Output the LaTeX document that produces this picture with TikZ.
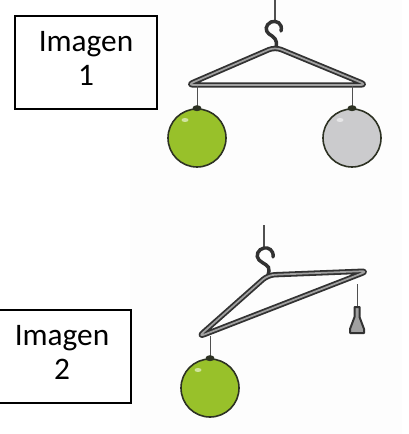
\documentclass[tikz,border=0pt]{standalone}
\usepackage{fontspec}
\setmainfont{Carlito}
\usetikzlibrary{calc}

\definecolor{wiredark}{RGB}{50,50,50}
\definecolor{wirelight}{RGB}{160,160,160}
\definecolor{threadgray}{RGB}{80,80,80}
\definecolor{ballgreen}{RGB}{152,193,42}
\definecolor{ballgrey}{RGB}{203,203,205}
\definecolor{balledge}{RGB}{45,50,35}
\definecolor{photobg}{RGB}{253,253,253}

\begin{document}
\begin{tikzpicture}[x=0.75pt,y=0.75pt,yscale=-1,xscale=1,
  wire/.style={draw=wiredark, line width=1.35pt, double=wirelight, double distance=1.3pt, line join=round, line cap=round},
  hookline/.style={draw=wiredark, line width=2.6pt, line cap=round},
  thread/.style={draw=threadgray, line width=0.7pt},
  ball/.style={circle, draw=balledge, line width=1.2pt, minimum size=43.5pt, inner sep=0pt},
  labelbox/.style={draw, line width=0.9pt, minimum width=106.5pt, minimum height=69.75pt, align=center, text depth=6pt, font=\fontsize{23.5}{26}\selectfont}]
\useasboundingbox (0,0) rectangle (409,434);

%Shape: Rectangle [photo background]
\fill [photobg] (130,0) rectangle (402,434) ;

%Label boxes
\node [labelbox] (img1) at (86,62.5) {Imagen\\1};
\node [labelbox, minimum width=103.5pt] (img2) at (62,356.5) {Imagen\\2};

%----- hanger 1 (balanced)
%Straight Lines [hanging string]
\coordinate (top1) at (275,0);
\coordinate (loop1) at (275,21);
\draw [thread, line width=1pt] (top1) -- (loop1) ;
%Curve Lines [hook]
\draw [hookline] (281,31) .. controls (283,23) and (276,20) .. (271,22) .. controls (265,25) and (265,31) .. (269,34) .. controls (274,37) and (278,40) .. (276,47) ;
%Shape: hanger body
\draw [wire, rounded corners=5] (275,47) -- (187,85) -- (367,85) -- cycle ;
%Balls
\coordinate (hookL1) at (197,86);
\coordinate (hookR1) at (352,86);
\node [ball, fill=ballgreen] (ballL1) at (197,138) {};
\node [ball, fill=ballgrey] (ballR1) at (352,138) {};
\draw [thread] (hookL1) -- (ballL1.north) ;
\draw [thread] (hookR1) -- (ballR1.north) ;

%----- hanger 2 (tilted)
%Straight Lines [hanging string]
\coordinate (top2) at (264,225);
\coordinate (loop2) at (264,248);
\draw [thread, line width=1pt] (top2) -- (loop2) ;
%Curve Lines [hook]
\draw [hookline] (273,257) .. controls (274,250) and (268,247) .. (264,248) .. controls (258,249) and (255,256) .. (259,260) .. controls (263,264) and (270,265) .. (269,271) -- (268,275) ;
%Shape: hanger body
\draw [wire, rounded corners=5] (268,275) -- (368,271) -- (198,337) -- cycle ;
%Ball and weight
\coordinate (hookL2) at (210,336);
\coordinate (hookR2) at (357,284);
\node [ball, fill=ballgreen] (ballL2) at (210,388) {};
\coordinate (weight) at (357,307);
\draw [thread] (hookL2) -- (ballL2.north) ;
\draw [thread] (hookR2) -- (weight) ;
%Shape: small weight
\draw [draw=wiredark, fill=wirelight, line width=1.5pt, line join=round] (354.5,307) -- (359.5,307) -- (359.5,317) -- (364,329) -- (364,333) -- (350,333) -- (350,329) -- (354.5,317) -- cycle ;

%Ball caps and highlights
\foreach \b in {ballL1,ballR1,ballL2}{
  \fill [balledge] (\b.north) ellipse (4.5 and 3) ;
  \fill [white, opacity=0.55] ($(\b.center)+(-12,-18)$) ellipse (3.5 and 2) ;
}

\end{tikzpicture}
\end{document}
